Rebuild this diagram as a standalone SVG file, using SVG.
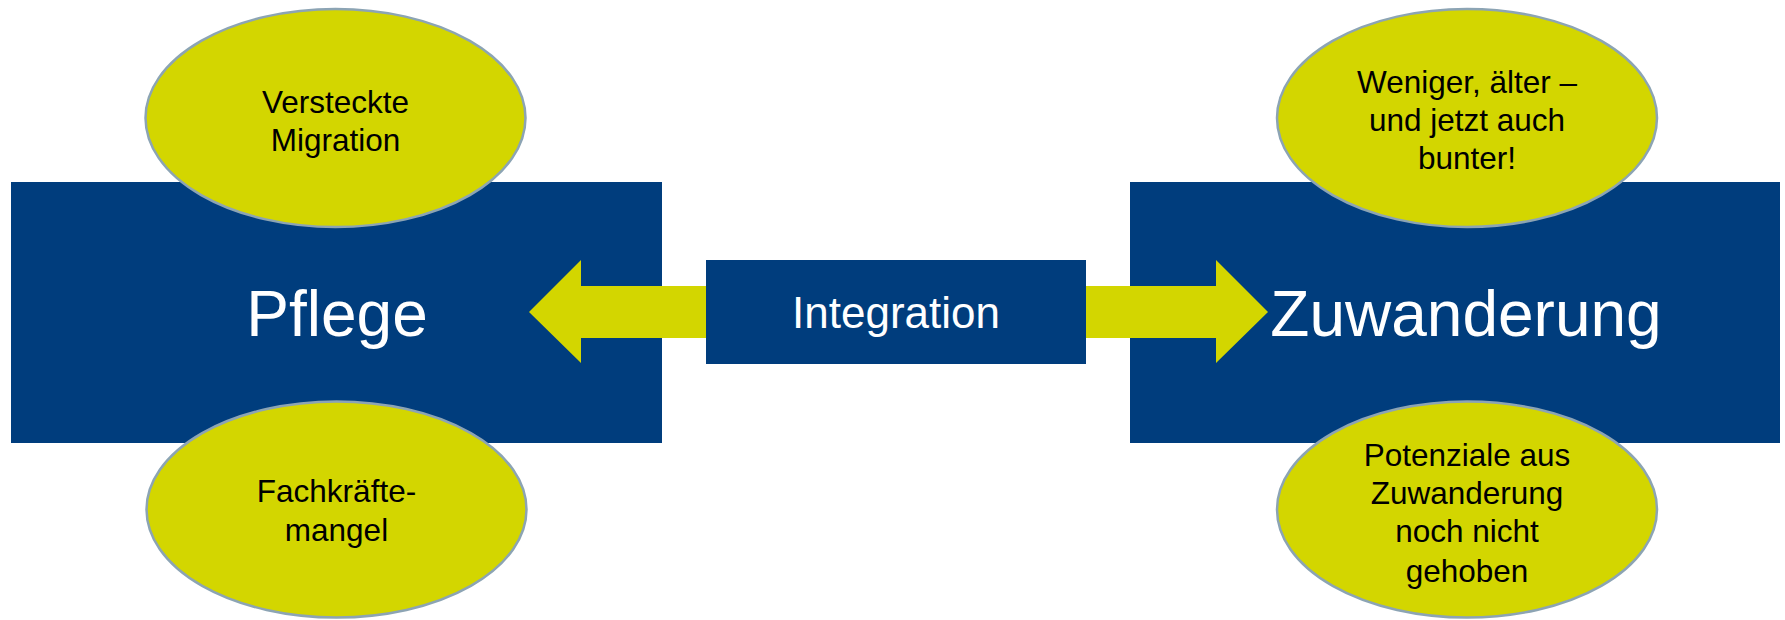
<svg xmlns="http://www.w3.org/2000/svg" width="1785" height="620" viewBox="0 0 1785 620">
<style>
.box{fill:#003d7d;}
.bubble{fill:#d3d600;stroke:#8ca4b4;stroke-width:2.5;}
.arrow{fill:#d3d600;}
.big{font-family:"Liberation Sans",Arial,sans-serif;fill:#ffffff;text-anchor:middle;}
.small{font-family:"Liberation Sans",Arial,sans-serif;font-size:31.5px;fill:#000000;text-anchor:middle;}
</style>
<rect width="1785" height="620" fill="#ffffff"/>
<g id="pflege">
<rect class="box" x="11" y="182" width="651" height="261"/>
<text class="big" x="337" y="336" font-size="64">Pflege</text>
</g>
<g id="zuwanderung">
<rect class="box" x="1130" y="182" width="650" height="261"/>
<text class="big" x="1466" y="336" font-size="64">Zuwanderung</text>
</g>
<g id="connectors">
<polygon class="arrow" points="706,286 581,286 581,260 529,312 581,363 581,338 706,338"/>
<polygon class="arrow" points="1086,286 1216,286 1216,260 1268,312 1216,363 1216,338 1086,338"/>
</g>
<g id="integration">
<rect class="box" x="706" y="260" width="380" height="104"/>
<text class="big" x="896" y="328" font-size="44">Integration</text>
</g>
<g id="versteckte-migration">
<ellipse class="bubble" cx="335.5" cy="118" rx="190" ry="109"/>
<text class="small" x="335.5" y="112.5">Versteckte</text>
<text class="small" x="335.5" y="150.8">Migration</text>
</g>
<g id="fachkraeftemangel">
<ellipse class="bubble" cx="336.5" cy="509.5" rx="190" ry="108"/>
<text class="small" x="336.5" y="502">Fachkräfte-</text>
<text class="small" x="336.5" y="540.5">mangel</text>
</g>
<g id="weniger-aelter">
<ellipse class="bubble" cx="1467" cy="118" rx="190" ry="109"/>
<text class="small" x="1467" y="92.7">Weniger, älter –</text>
<text class="small" x="1467" y="130.8">und jetzt auch</text>
<text class="small" x="1467" y="169">bunter!</text>
</g>
<g id="potenziale">
<ellipse class="bubble" cx="1467" cy="509.5" rx="190" ry="108"/>
<text class="small" x="1467" y="465.7">Potenziale aus</text>
<text class="small" x="1467" y="503.5">Zuwanderung</text>
<text class="small" x="1467" y="542.3">noch nicht</text>
<text class="small" x="1467" y="581.5">gehoben</text>
</g>
</svg>
